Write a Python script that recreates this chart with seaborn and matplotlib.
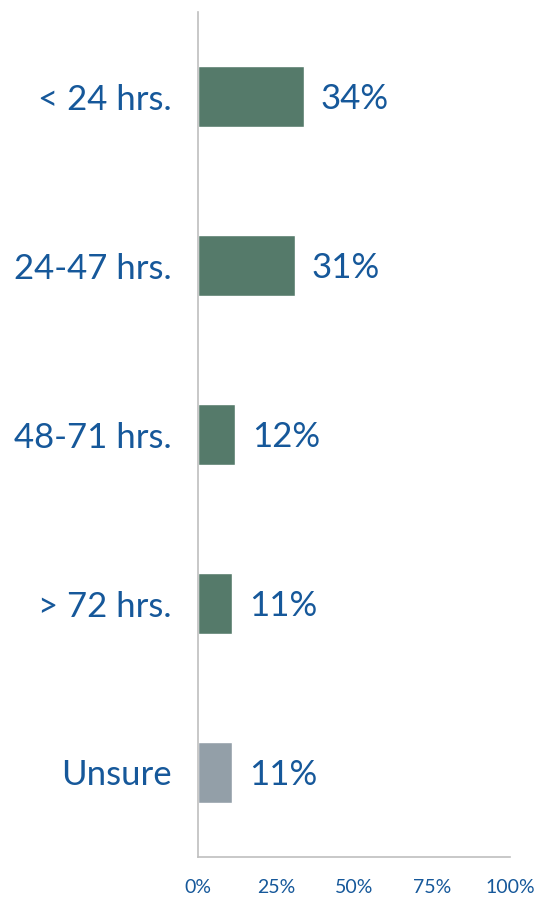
import matplotlib
matplotlib.use("Agg")
import matplotlib.pyplot as plt
import seaborn as sns
import pandas as pd

# Response time categories and shares (%)
categories = ["< 24 hrs.", "24-47 hrs.", "48-71 hrs.", "> 72 hrs.", "Unsure"]
values = [34, 31, 12, 11, 11]
bar_colors = ["#557A6A", "#557A6A", "#557A6A", "#557A6A", "#939FA8"]
x_ticks = [0, 25, 50, 75, 100]
x_tick_labels = ["0%", "25%", "50%", "75%", "100%"]

TEXT = "#16589A"
AXIS = "#BFBFBF"

sns.set_theme(style="white")
plt.rcParams["font.family"] = ["Lato", "DejaVu Sans"]

df = pd.DataFrame({"category": categories, "value": values})

fig = plt.figure(figsize=(5.35, 8.97), dpi=100)
ax = fig.add_axes([0.370, 0.0446, 0.583, 0.942])

sns.barplot(data=df, x="value", y="category", hue="category",
            palette=bar_colors, width=0.36, legend=False, ax=ax,
            saturation=1)

for i, v in enumerate(values):
    ax.annotate(f"{v}%", xy=(v, i), xytext=(12, -1.5), textcoords="offset points",
                va="center", ha="left", fontsize=25, color=TEXT)

ax.set_xlim(0, 100)
ax.set_ylim(4.5, -0.5)
ax.set_xticks(x_ticks)
ax.set_xticklabels(x_tick_labels)
ax.set_xlabel("")
ax.set_ylabel("")

sns.despine(ax=ax)
for s in ["left", "bottom"]:
    ax.spines[s].set_color(AXIS)
    ax.spines[s].set_linewidth(1.2)

ax.tick_params(axis="x", colors=AXIS, length=6, width=1.2, direction="out",
               labelcolor=TEXT, labelsize=14, pad=10)
ax.tick_params(axis="y", length=0, labelcolor=TEXT, labelsize=25, pad=19)

fig.savefig("out.png", dpi=100)
